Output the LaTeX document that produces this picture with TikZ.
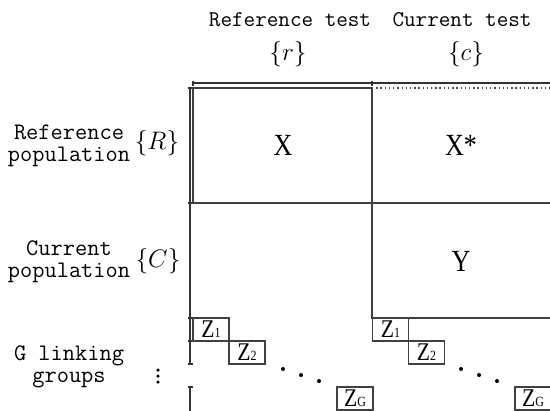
\documentclass[tikz,border=0pt]{standalone}
\usepackage{fontspec}
\usepackage{amsmath}
\newfontfamily\cellfont[FakeStretch=0.85]{Liberation Serif}
\usetikzlibrary{positioning}

\newcommand{\zlab}[1]{Z{\fontsize{8}{8}\selectfont #1}}

\tikzset{
  frame/.style={draw=black!75,line width=0.6pt},
  axisline/.style={black!80,line width=0.7pt},
  zbox/.style={frame,minimum width=0.72cm,minimum height=0.46cm,inner sep=0pt,
    outer sep=0pt,font=\cellfont\fontsize{14.5}{14.5}\selectfont},
  bigletter/.style={font=\cellfont\fontsize{17.5}{17.5}\selectfont},
  headtext/.style={font=\ttfamily\fontsize{12.8}{14}\selectfont},
  rowtext/.style={font=\ttfamily\fontsize{13.5}{12.6}\selectfont,align=center},
  setname/.style={font=\fontsize{13.5}{14}\selectfont},
  ddot/.style={circle,fill=black,inner sep=0pt,minimum size=2.3pt}
}

\begin{document}
\begin{tikzpicture}[x=0.02cm,y=-0.02cm]
\useasboundingbox (0,0) rectangle (550,410);
% --- column headings ---
\node[headtext] (reftest) at (290,20) {Reference test};
\node[headtext] (curtest) at (462,20) {Current test};
\node[setname] (rset) at (288,54) {$\{r\}$};
\node[setname] (cset) at (466,54) {$\{c\}$};
% --- row headings ---
\node[rowtext] (refpop) at (69,146) {Reference\\population};
\node[setname] (Rset) at (157,143) {$\{R\}$};
\node[rowtext] (curpop) at (69,262) {Current\\population};
\node[setname] (Cset) at (158,261) {$\{C\}$};
\node[rowtext] (linkgrp) at (69,367) {G linking\\groups};
\foreach \y [count=\i] in {370,376,382} \node[ddot,minimum size=2pt] (vdot\i) at (158,\y) {};

% --- axes ---
\draw[axisline] (193,83) -- (550,83);
\foreach \x in {193,372} \draw[axisline] (\x,80.5) -- (\x,85.5);
\draw[axisline] (190,88) -- (190,364);
\draw[axisline] (190,387) -- (190,412);
\foreach \y in {88,203,318,341,364,387} \draw[axisline] (187.5,\y) -- (192.5,\y);

% --- X, X* and Y blocks ---
\draw[frame] (193,88) rectangle (372,203);
\draw[frame,draw=black!70,dash pattern=on 0.8pt off 1.6pt] (372,88) -- (560,88);
\draw[frame] (372,203) -- (560,203);
\draw[frame] (560,318) -| (372,203);
\node[bigletter] (X) at (283,145) {X};
\node[bigletter] (Xs) at (461,145) {X*};
\node[bigletter] (Y) at (461,261) {Y};

% --- linking groups, reference test ---
\node[zbox] (zr1) at (211,329.5) {\zlab{1}};
\node[zbox,below right=0pt of zr1] (zr2) {\zlab{2}};
\foreach \x/\y [count=\i] in {283/369,301/375,319/381} \node[ddot] (rdot\i) at (\x,\y) {};
\node[zbox] (zrG) at (355,398.5) {\zlab{G}};

% --- linking groups, current test ---
\node[zbox] (zc1) at (390.5,329.5) {\zlab{1}};
\node[zbox,below right=0pt of zc1] (zc2) {\zlab{2}};
\foreach \x/\y [count=\i] in {461/369,479/375,497/381} \node[ddot] (cdot\i) at (\x,\y) {};
\node[zbox] (zcG) at (533,398.5) {\zlab{G}};
\end{tikzpicture}
\end{document}
